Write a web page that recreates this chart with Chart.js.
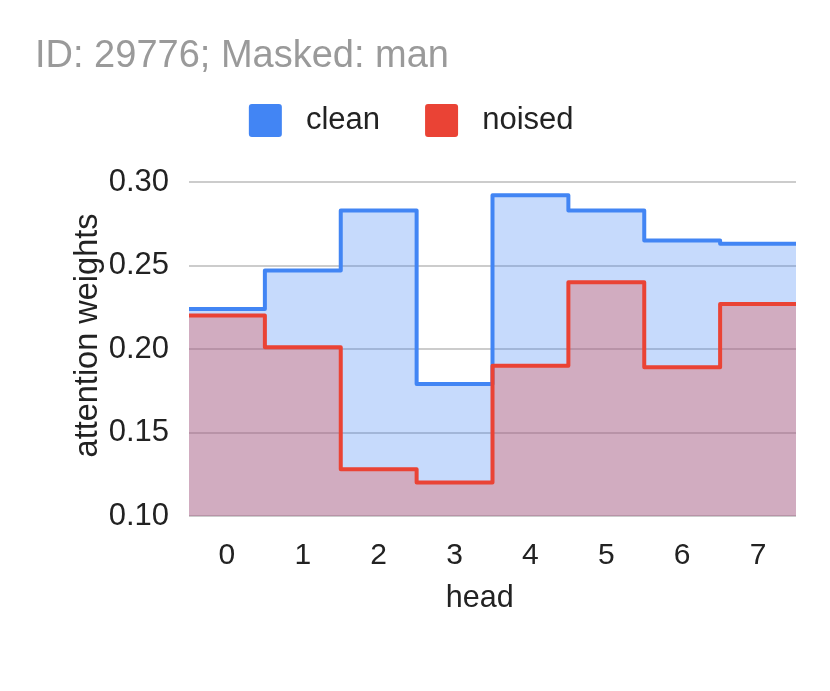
<!DOCTYPE html>
<html><head><meta charset="utf-8">
<script src="https://cdn.jsdelivr.net/npm/chart.js@4"></script>
<style>html,body{margin:0;padding:0;background:#fff}#wrap{width:830px;height:691px}</style>
</head><body><div id="wrap"><canvas id="c" width="830" height="691"></canvas></div>
<script>
const heads = [0, 1, 2, 3, 4, 5, 6, 7];
const headLabels = ['0', '1', '2', '3', '4', '5', '6', '7'];
const clean = [0.224, 0.247, 0.283, 0.179, 0.292, 0.283, 0.265, 0.263];
const noised = [0.220, 0.201, 0.128, 0.120, 0.190, 0.240, 0.189, 0.227];
const yTicks = [0.10, 0.15, 0.20, 0.25, 0.30];
const seriesNames = ['clean', 'noised'];
const seriesColors = ['#4285F4', '#EA4335'];
const seriesFills = ['rgba(66,133,244,0.3)', 'rgba(234,67,53,0.3)'];
const F = '"Liberation Sans", Arial, sans-serif';

// each head's value spans from head-0.5 to head+0.5
function stepPoints(vals) {
  const pts = vals.map((v, i) => ({x: heads[i] - 0.5, y: v}));
  pts.push({x: heads[heads.length - 1] + 0.5, y: vals[vals.length - 1]});
  return pts;
}

const seriesData = [clean, noised];
const datasets = seriesNames.map((n, i) => ({
  label: n,
  data: stepPoints(seriesData[i]),
  borderColor: seriesColors[i],
  backgroundColor: seriesFills[i],
  fill: 'start',
  stepped: true,
  borderWidth: 4,
  pointRadius: 0,
  borderJoinStyle: 'round',
  borderCapStyle: 'round',
  order: seriesNames.length - i
}));

new Chart(document.getElementById('c'), {
  type: 'line',
  data: {datasets},
  options: {
    responsive: false,
    animation: false,
    layout: {padding: {left: 35, right: 34, top: 0, bottom: 0}},
    plugins: {
      title: {
        display: true, text: 'ID: 29776; Masked: man', align: 'start', color: '#9a9a9a',
        font: {family: F, size: 38, weight: 'normal', lineHeight: 1.2},
        padding: {top: 34.2, bottom: -20.8}
      },
      subtitle: {
        display: true, text: '', weight: 500, position: 'top',
        font: {family: F, size: 10, lineHeight: 1},
        padding: {top: 25, bottom: 0}
      },
      legend: {
        position: 'top', align: 'center',
        labels: {
          boxWidth: 33, boxHeight: 33, padding: 45, color: '#222',
          font: {family: F, size: 31},
          generateLabels: () => seriesNames.map((n, i) => ({
            text: ' ' + n + (i === seriesNames.length - 1 ? ' ' : ''),
            fillStyle: seriesColors[i], strokeStyle: seriesColors[i],
            lineWidth: 0, borderRadius: 3, datasetIndex: i, hidden: false, fontColor: '#222'
          }))
        }
      },
      tooltip: {enabled: false}
    },
    scales: {
      x: {
        type: 'linear', min: -0.5, max: 7.5,
        afterBuildTicks: s => { s.ticks = heads.map(v => ({value: v})); },
        ticks: {
          callback: v => headLabels[heads.indexOf(v)],
          color: '#222', font: {family: F, size: 30}, padding: 22, autoSkip: false, maxRotation: 0
        },
        grid: {display: false, drawTicks: false},
        border: {display: false},
        title: {display: true, text: 'head   ', color: '#222', font: {family: F, size: 30.5}, padding: {top: 0, bottom: 74}},
        afterFit: s => { s.height = 175; }
      },
      y: {
        min: 0.1, max: 0.3,
        afterBuildTicks: s => { s.ticks = yTicks.map(v => ({value: v})); },
        ticks: {callback: v => v.toFixed(2), color: '#222', font: {family: F, size: 31}, padding: 20},
        grid: {color: '#cccccc', lineWidth: 2, drawTicks: false},
        border: {display: false},
        title: {display: true, text: '   attention weights', color: '#222', font: {family: F, size: 32.5}, padding: {top: 33.5, bottom: 0}},
        afterFit: s => { s.width = 154; }
      }
    }
  }
});
</script>
</body></html>
